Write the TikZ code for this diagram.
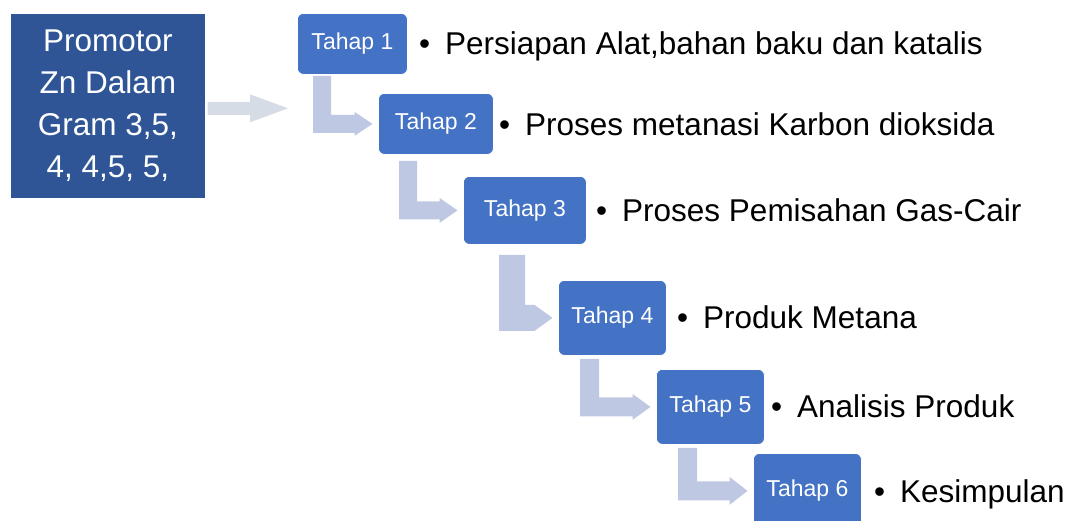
\documentclass[tikz,border=0pt]{standalone}
\usepackage{fontspec}
\setmainfont{Liberation Sans}
\usetikzlibrary{calc}

\definecolor{promoblue}{HTML}{2F5597}
\definecolor{stepblue}{HTML}{4472C4}
\definecolor{bendgrey}{HTML}{BFC8E3}
\definecolor{leadgrey}{HTML}{D6DCE5}

\tikzset{
  promobox/.style={fill=promoblue, draw=white, line width=0.6pt, text=white,
    align=center, inner sep=0pt, font=\fontsize{31.5}{42}\selectfont},
  stepbox/.style={fill=stepblue, draw=white, line width=0.8pt, rounded corners=6pt,
    text=white, inner sep=0pt, anchor=north west, font=\fontsize{23}{27}\selectfont},
  desc/.style={anchor=base west, inner sep=0pt, font=\fontsize{31.5}{38}\selectfont},
  bendarrow/.style={fill=bendgrey},
  leadarrow/.style={fill=leadgrey},
}

\begin{document}
\begin{tikzpicture}[x=1pt, y=-1pt]
\useasboundingbox (0,0) rectangle (1072,520);

% Promotor box
\node[promobox, minimum width=195, minimum height=185, anchor=north west] (promo) at (10,13)
  {Promotor\\Zn Dalam\\Gram 3,5,\\4, 4,5, 5,};

% Stages
\node[stepbox, minimum width=110, minimum height=61] (t1) at (297,13) {Tahap 1};
\node[stepbox, minimum width=115, minimum height=61] (t2) at (378,93) {Tahap 2};
\node[stepbox, minimum width=123, minimum height=68] (t3) at (463,176) {Tahap 3};
\node[stepbox, minimum width=108, minimum height=75] (t4) at (558,280) {Tahap 4};
\node[stepbox, minimum width=108, minimum height=75] (t5) at (656,369) {Tahap 5};
\node[stepbox, minimum width=108, minimum height=75] (t6) at (753,453) {Tahap 6};

% Descriptions
\node[desc] (d1) at (445,54.5) {\llap{\textbullet\hspace{15pt}}Persiapan Alat,bahan baku dan katalis};
\node[desc] (d2) at (525,135) {\llap{\textbullet\hspace{15pt}}Proses metanasi Karbon dioksida};
\node[desc] (d3) at (622,221) {\llap{\textbullet\hspace{15pt}}Proses Pemisahan Gas-Cair};
\node[desc] (d4) at (703,328.5) {\llap{\textbullet\hspace{15pt}}Produk Metana};
\node[desc] (d5) at (797,417) {\llap{\textbullet\hspace{15pt}}Analisis Produk};
\node[desc] (d6) at (900,502) {\llap{\textbullet\hspace{15pt}}Kesimpulan};

% Lead arrow
\fill[leadarrow] let \p1=(promo.east), \p2=(t1.west) in
  (\x1+2pt,\y1-9pt) -- (\x2-47pt,\y1-9pt) -- (\x2-47pt,\y1-16.5pt) -- (\x2-9pt,\y1-2.5pt)
  -- (\x2-47pt,\y1+11.5pt) -- (\x2-47pt,\y1+4pt) -- (\x1+2pt,\y1+4pt) -- cycle;

% Bent arrows between stages
\foreach \a/\b/\off/\w/\gap/\fl in {t1/t2/16/18/1/3, t2/t3/21/18/6/3.5, t3/t4/36/26/10/0,
    t4/t5/22/19/3/3.5, t5/t6/22/19/3/4.5}
  \fill[bendarrow] let \p1=(\a.south west), \p2=(\b.west) in
    (\x1+\off pt,\y1-\gap pt) -- (\x1+\off pt+\w pt,\y1-\gap pt)
    -- (\x1+\off pt+\w pt,\y2+0.5*\w pt) -- (\x2-23.5pt,\y2+0.5*\w pt)
    -- (\x2-23.5pt,\y2+0.5*\w pt+\fl pt) -- (\x2-5.5pt,\y2)
    -- (\x2-23.5pt,\y2-0.5*\w pt-\fl pt) -- (\x2-23.5pt,\y2-0.5*\w pt)
    -- (\x1+\off pt,\y2-0.5*\w pt) -- cycle;

\end{tikzpicture}
\end{document}
